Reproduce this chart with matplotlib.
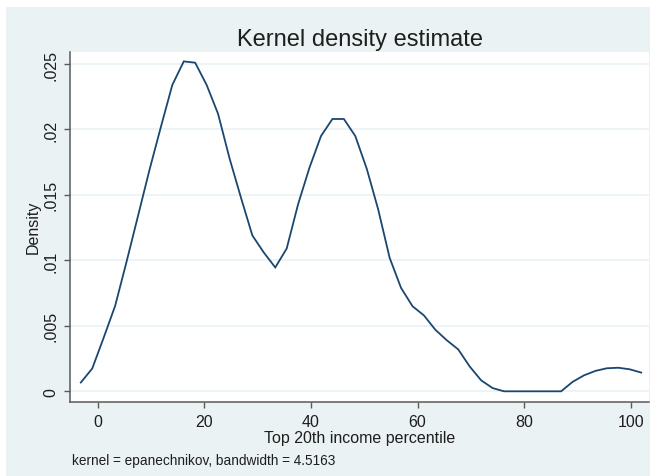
import matplotlib
matplotlib.use("Agg")
import matplotlib.pyplot as plt
from matplotlib.patches import Rectangle

plt.rcParams['font.family'] = ['Liberation Sans', 'DejaVu Sans']

# Data
x_vals = [-3.17, -1.03, 1.12, 3.27, 5.41, 7.56, 9.70, 11.85, 13.99, 16.14,
          18.28, 20.43, 22.57, 24.72, 26.86, 29.01, 31.15, 33.30, 35.44, 37.59,
          39.73, 41.88, 44.02, 46.17, 48.31, 50.46, 52.60, 54.75, 56.89, 59.04,
          61.18, 63.33, 65.47, 67.62, 69.76, 71.91, 74.05, 76.20, 78.34, 80.49,
          82.63, 84.78, 86.92, 89.07, 91.21, 93.36, 95.50, 97.65, 99.79, 101.94]
density = [0.00067, 0.00174, 0.0041, 0.00653, 0.0099, 0.0134, 0.0169, 0.0202, 0.0234, 0.0252,
           0.0251, 0.0234, 0.0212, 0.0178, 0.0148, 0.0119, 0.0106, 0.00946, 0.0109, 0.0143,
           0.0171, 0.0195, 0.0208, 0.0208, 0.0195, 0.0170, 0.0139, 0.0102, 0.0079, 0.0065,
           0.0058, 0.0047, 0.0039, 0.0032, 0.0019, 0.00084, 0.00025, 0.0, 0.0, 0.0,
           0.0, 0.0, 0.0, 0.00072, 0.00122, 0.00156, 0.00176, 0.00180, 0.00168, 0.00143]

x_ticks = [0, 20, 40, 60, 80, 100]
x_tick_labels = ['0', '20', '40', '60', '80', '100']
y_ticks = [0, 0.005, 0.01, 0.015, 0.02, 0.025]
y_tick_labels = ['0', '.005', '.01', '.015', '.02', '.025']

title = 'Kernel density estimate'
x_label = 'Top 20th income percentile'
y_label = 'Density'
note = 'kernel = epanechnikov, bandwidth = 4.5163'

BG = '#EAF2F3'
LINE = '#1A476F'
TXT = '#1E1E1E'
AX = '#5A5A5A'

W, H = 650, 477
fig = plt.figure(figsize=(6.5, 4.77), dpi=100, facecolor='white')
fig.patches.append(Rectangle((6 / W, 0), 1 - 6 / W, (H - 8) / H,
                             transform=fig.transFigure, facecolor=BG,
                             edgecolor='none', zorder=-10))

left, right = 70 / W, 649 / W
bottom, top = (H - 402.7) / H, (H - 52.7) / H
ax = fig.add_axes([left, bottom, right - left, top - bottom])
ax.set_facecolor('white')

ax.plot(x_vals, density, color=LINE, lw=1.3, solid_joinstyle='miter', zorder=3)

ax.set_xlim(-5.2, 103.4)
ax.set_ylim(-0.000794, 0.02594)

ax.set_xticks(x_ticks)
ax.set_xticklabels(x_tick_labels)
ax.set_yticks(y_ticks)
ax.set_yticklabels(y_tick_labels, rotation=90, va='center')

for yv in y_ticks:
    ax.axhline(yv, color=BG, lw=1.2, zorder=1)

for s in ['top', 'right']:
    ax.spines[s].set_visible(False)
for s in ['left', 'bottom']:
    ax.spines[s].set_color(AX)
    ax.spines[s].set_linewidth(1.1)

ax.tick_params(axis='both', colors=AX, labelcolor=TXT, labelsize=11.5,
               length=4.2, width=1.0, direction='out')
ax.tick_params(axis='x', pad=4.5)
ax.tick_params(axis='y', pad=4)

ax.set_xlabel(x_label, fontsize=11.5, color=TXT, labelpad=1)
ax.set_ylabel(y_label, fontsize=11.5, color=TXT, labelpad=2)

fig.text(right / 2 + left / 2, (H - 40) / H, title, fontsize=17, color=TXT,
         ha='center', va='center')
fig.text(72.5 / W, (H - 461.5) / H, note, fontsize=9.8, color=TXT,
         ha='left', va='center')

fig.savefig('out.png', dpi=100, facecolor=fig.get_facecolor())
